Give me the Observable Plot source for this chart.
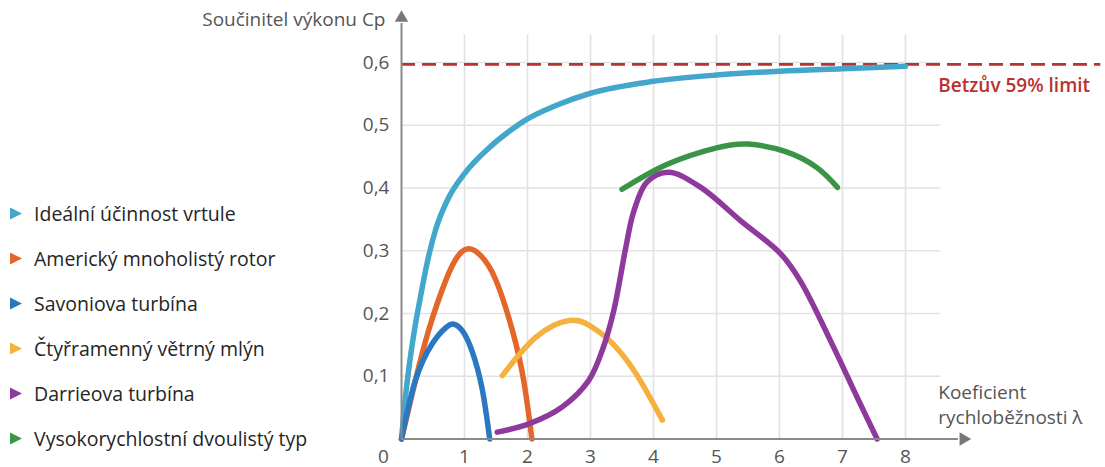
<!DOCTYPE html>
<html>
<head>
<meta charset="utf-8">
<script src="https://cdn.jsdelivr.net/npm/d3@7"></script>
<script src="https://cdn.jsdelivr.net/npm/@observablehq/plot@0.6"></script>
<style>
  html, body { margin: 0; padding: 0; background: #fff; }
  #wrap { position: relative; width: 1105px; height: 467px; font-family: "Open Sans", sans-serif; }
  #legend { position: absolute; left: 0; top: 0; }
  .item { position: absolute; left: 10px; white-space: nowrap; font-size: 19.5px; color: #252525; transform: translateY(-50%); display: flex; align-items: center; }
  .tri { width: 0; height: 0; border-top: 6px solid transparent; border-bottom: 6px solid transparent; border-left: 12px solid; margin-right: 12px; }
</style>
</head>
<body>
<div id="wrap"><div id="legend"></div></div>
<script>
// ---- data (λ, Cp) ----
const seriesNames = [
  "Ideální účinnost vrtule",
  "Americký mnoholistý rotor",
  "Savoniova turbína",
  "Čtyřramenný větrný mlýn",
  "Darrieova turbína",
  "Vysokorychlostní dvoulistý typ"
];
const seriesColors = ["#43a7cb", "#e4672a", "#2a78c2", "#f5b13f", "#8e3a9c", "#3a9447"];

const ideal = [[0,0],[0.05,0.055],[0.12,0.115],[0.2,0.17],[0.3,0.226],[0.41,0.282],[0.54,0.333],[0.75,0.385],[1.0,0.423],[1.4,0.465],[1.76,0.494],[2.0,0.51],[2.44,0.531],[3.0,0.551],[4,0.57],[5,0.58],[6,0.586],[7,0.59],[8,0.594]];
const american = [[0,0],[0.22,0.093],[0.43,0.173],[0.7,0.252],[0.9,0.292],[1.07,0.303],[1.25,0.293],[1.49,0.255],[1.76,0.173],[1.94,0.093],[2.07,0]];
const savonius = [[0,0],[0.22,0.093],[0.49,0.152],[0.7,0.177],[0.83,0.183],[0.97,0.172],[1.12,0.14],[1.28,0.08],[1.4,0]];
const fourArm = [[1.6,0.101],[2.13,0.162],[2.66,0.189],[3.0,0.18],[3.29,0.158],[3.69,0.109],[4.14,0.03]];
const darrieus = [[1.52,0.011],[2.02,0.024],[2.55,0.051],[2.97,0.093],[3.2,0.145],[3.37,0.205],[3.56,0.305],[3.69,0.364],[3.9,0.41],[4.24,0.425],[4.75,0.401],[5.38,0.348],[6.02,0.295],[6.33,0.252],[6.86,0.146],[7.23,0.067],[7.55,0]];
const highSpeed = [[3.5,0.398],[4.22,0.438],[5.0,0.464],[5.5,0.47],[6.1,0.458],[6.6,0.432],[6.92,0.401]];
const allSeries = [ideal, american, savonius, fourArm, darrieus, highSpeed];
const seriesCurves = ["monotone-x", "natural", "natural", "natural", "catmull-rom", "natural"];

const betz = 0.597;
const betzLabel = "Betzův 59% limit";
const xTicks = [1,2,3,4,5,6,7,8];
const yTicks = [0.1,0.2,0.3,0.4,0.5,0.6];
const yTitle = "Součinitel výkonu Cp";
const xTitle1 = "Koeficient";
const xTitle2 = "rychloběžnosti λ";

const axisColor = "#8a8a8a";
const gridColor = "#e2e2e2";
const textColor = "#555";
const fs = 19;

const lineMarks = allSeries.map((s, i) =>
  Plot.line(s, {x: d => d[0], y: d => d[1], stroke: seriesColors[i], strokeWidth: 5.5, curve: seriesCurves[i]})
);

const chart = Plot.plot({
  width: 1105,
  height: 467,
  marginLeft: 401,
  marginRight: 200,
  marginTop: 62,
  marginBottom: 28.5,
  x: {domain: [0, 8], axis: null},
  y: {domain: [0, 0.6], axis: null},
  style: {fontFamily: "Open Sans, sans-serif", overflow: "visible", background: "transparent"},
  marks: [
    Plot.ruleX(xTicks, {y1: 0, y2: 0.644, stroke: gridColor, strokeWidth: 1.6}),
    Plot.ruleY(yTicks, {x1: 0, x2: 8.56, stroke: gridColor, strokeWidth: 1.6}),
    Plot.ruleY([betz], {x1: 0, x2: 11.1, stroke: "#b8332e", strokeWidth: 2.8, strokeDasharray: "14,7"}),
    ...lineMarks,
    Plot.ruleY([0], {x1: 0, x2: 8.84, stroke: axisColor, strokeWidth: 2}),
    Plot.ruleX([0], {y1: 0, y2: 0.662, stroke: axisColor, strokeWidth: 2}),
    Plot.dot([[8.92, 0]], {x: d => d[0], y: d => d[1], symbol: "triangle", rotate: 90, fill: "#777", stroke: null, r: 5}),
    Plot.dot([[0, 0.671]], {x: d => d[0], y: d => d[1], symbol: "triangle", fill: "#777", stroke: null, r: 5}),
    Plot.text(xTicks, {x: d => d, y: 0, dy: 18, text: d => String(d), fill: textColor, fontSize: fs}),
    Plot.text([0], {x: 0, y: 0, dx: -18, dy: 18, text: d => String(d), fill: textColor, fontSize: fs}),
    Plot.text(yTicks, {x: 0, y: d => d, dx: -12, textAnchor: "end", text: d => d.toFixed(1).replace(".", ","), fill: textColor, fontSize: fs}),
    Plot.text([yTitle], {x: 0, y: 0.668, dx: -16, textAnchor: "end", text: d => d, fill: textColor, fontSize: fs}),
    Plot.text([xTitle1], {x: 8.52, y: 0.07, dy: -2, textAnchor: "start", text: d => d, fill: textColor, fontSize: fs}),
    Plot.text([xTitle2], {x: 8.52, y: 0.07, dy: 23, textAnchor: "start", text: d => d, fill: textColor, fontSize: fs}),
    Plot.text([betzLabel], {x: 8.52, y: betz, dy: 22, textAnchor: "start", text: d => d, fill: "#b8332e", fontSize: 19, fontWeight: 600})
  ]
});
document.getElementById("wrap").prepend(chart);

const legend = document.getElementById("legend");
const legendTops = [213, 258, 303, 348, 393, 438];
seriesNames.forEach((n, i) => {
  const it = document.createElement("div");
  it.className = "item";
  it.style.top = legendTops[i] + "px";
  const t = document.createElement("span");
  t.className = "tri";
  t.style.borderLeftColor = seriesColors[i];
  it.appendChild(t);
  it.appendChild(document.createTextNode(n));
  legend.appendChild(it);
});
</script>
</body>
</html>
